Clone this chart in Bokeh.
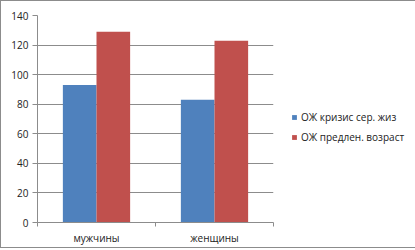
from bokeh.plotting import figure
from bokeh.models import Range1d, FixedTicker, Legend, LegendItem
from bokeh.embed import file_html
from bokeh.resources import INLINE
import numpy as np

categories = ["мужчины", "женщины"]
series_names = ["ОЖ кризис сер. жиз", "ОЖ предлен. возраст"]
crisis = [93, 83]
extended = [129, 123]
y_ticks = [0, 20, 40, 60, 80, 100, 120, 140]
colors = ["#4F81BD", "#C0504D"]

FONT = "Open Sans"

p = figure(frame_width=236, frame_height=207, output_backend="svg", toolbar_location=None,
           x_range=Range1d(0, len(categories)), y_range=Range1d(0, 140),
           min_border_left=36, min_border_top=14, min_border_right=135, min_border_bottom=21)
p.styles = {"border": "1px solid #8c8c8c", "box-sizing": "border-box"}
p.outline_line_color = None
p.background_fill_color = "white"
p.border_fill_color = "white"

centers = np.arange(len(categories)) + 0.5
bw = 0.285
r1 = p.vbar(x=centers - bw / 2, top=crisis, width=bw, color=colors[0], line_color=None)
r2 = p.vbar(x=centers + bw / 2, top=extended, width=bw, color=colors[1], line_color=None)

# y axis
p.yaxis.ticker = FixedTicker(ticks=y_ticks)
p.yaxis.axis_line_color = "#8c8c8c"
p.yaxis.major_tick_line_color = "#8c8c8c"
p.yaxis.major_tick_out = 5
p.yaxis.major_tick_in = 0
p.yaxis.minor_tick_line_color = None
p.yaxis.major_label_standoff = 4
p.yaxis.major_label_text_font = FONT
p.yaxis.major_label_text_font_size = "10px"
p.yaxis.major_label_text_color = "#222222"
p.ygrid.ticker = FixedTicker(ticks=y_ticks)
p.ygrid.grid_line_color = "#8c8c8c"
p.ygrid.grid_line_width = 1

# x axis
p.xaxis.ticker = FixedTicker(ticks=list(centers), minor_ticks=list(range(len(categories) + 1)))
p.xaxis.major_label_overrides = {float(c): n for c, n in zip(centers, categories)}
p.xaxis.axis_line_color = "#8c8c8c"
p.xaxis.major_tick_line_color = None
p.xaxis.major_tick_out = 0
p.xaxis.major_tick_in = 0
p.xaxis.minor_tick_line_color = "#8c8c8c"
p.xaxis.minor_tick_out = 4
p.xaxis.minor_tick_in = 0
p.xaxis.major_label_standoff = 4
p.xaxis.major_label_text_font = FONT
p.xaxis.major_label_text_font_size = "10px"
p.xaxis.major_label_text_color = "#222222"
p.xgrid.grid_line_color = None

legend = Legend(items=[LegendItem(label=series_names[0], renderers=[r1]),
                       LegendItem(label=series_names[1], renderers=[r2])],
                location=(18, 78), orientation="vertical",
                glyph_width=6, glyph_height=6, label_standoff=4,
                label_height=14, spacing=6, padding=0, margin=0,
                label_text_font=FONT, label_text_font_size="10px",
                label_text_color="#222222",
                border_line_color=None, background_fill_alpha=0)
p.add_layout(legend, "right")

open("out.html", "w").write(file_html(p, INLINE))
